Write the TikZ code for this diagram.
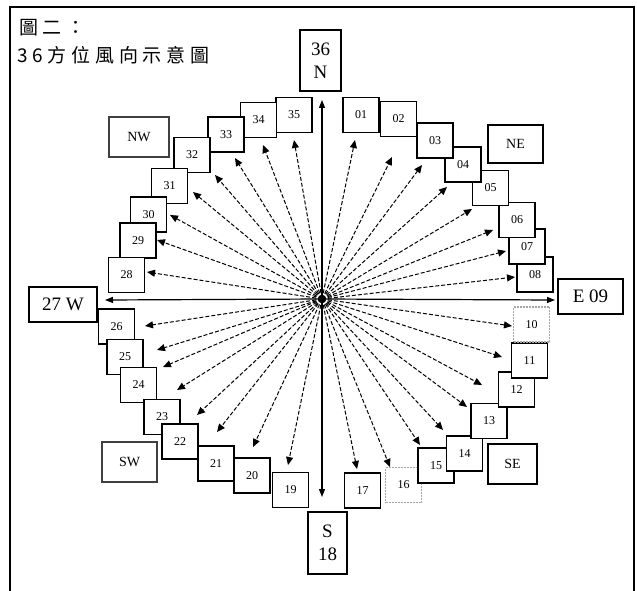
\documentclass[tikz,border=0pt]{standalone}
\usepackage{fontspec}
\setmainfont{Liberation Serif}
\newfontfamily\cjk[LetterSpace=25]{Noto Sans CJK TC}
\usetikzlibrary{arrows.meta}
\tikzset{
  bx/.style={draw=black, line width=1.3pt, fill=white, inner sep=0pt,
    minimum width=36pt, minimum height=35pt, font=\fontsize{12}{12}\selectfont},
  bigbx/.style={bx, font=\fontsize{19}{21}\selectfont},
  dirbx/.style={bx, draw=black!75, line width=1.1pt, font=\fontsize{14}{14}\selectfont},
  faint/.style={draw=black!35, dash pattern=on 2pt off 1pt},
  arr/.style={line width=1pt, dash pattern=on 4pt off 2pt, -{Triangle[length=8pt,width=7pt]}},
  axis/.style={line width=1.2pt, -{Triangle[length=8pt,width=6pt]}},
}
\begin{document}
\begin{tikzpicture}[x=1pt,y=-1pt]
\useasboundingbox (0,0) rectangle (637,591);
% frame
\draw[line width=1.5pt] (10,591) -- (10,7) -- (634,7) -- (634,591);
% title
\node[anchor=base west, inner sep=0pt, font=\cjk\fontsize{19}{19}\selectfont] (t1) at (19,35) {圖二：};
\node[anchor=base west, inner sep=0pt, font=\cjk\fontsize{19}{19}\selectfont] (t2) at (17,63) {36方位風向示意圖};
% center
\coordinate (O) at (322,299);
% boxes
\node[bx] (b35) at (294,115) {35};
\node[bx] (b34) at (258.5,120) {34};
\node[bx] (b33) at (226,134.5) {33};
\node[bx] (b32) at (192,155) {32};
\node[bx] (b31) at (169.5,186) {31};
\node[bx] (b30) at (148.5,214.5) {30};
\node[bx] (b29) at (138,240.5) {29};
\node[bx] (b28) at (126.5,275) {28};
\node[bigbx, minimum width=68pt] (bW) at (63,304.5) {27 W};
\node[bx] (b26) at (116.5,326.5) {26};
\node[bx] (b25) at (125,357) {25};
\node[bx] (b24) at (138.5,385) {24};
\node[bx] (b23) at (162,417) {23};
\node[bx] (b22) at (180,441.5) {22};
\node[bx] (b21) at (216,463.5) {21};
\node[bx] (b20) at (252,475.5) {20};
\node[bx] (b19) at (290.5,490) {19};
\node[bigbx, minimum width=39pt, minimum height=62pt, align=center] (bS) at (327.5,543) {S\\[2pt]18};
\node[bx] (b17) at (362.5,490.5) {17};
\node[bx, faint] (b16) at (403.5,485) {16};
\node[bx] (b15) at (436,465.5) {15};
\node[bx] (b14) at (464.5,453.5) {14};
\node[bx] (b13) at (489,421) {13};
\node[bx] (b12) at (516.5,389.5) {12};
\node[bx] (b11) at (529.5,360.5) {11};
\node[bx, faint] (b10) at (531.5,324.5) {10};
\node[bigbx, minimum width=65pt] (bE) at (590.5,296.5) {E 09};
\node[bx] (b08) at (535,274.5) {08};
\node[bx] (b07) at (527,246.5) {07};
\node[bx] (b06) at (517,220) {06};
\node[bx] (b05) at (490.5,188) {05};
\node[bx] (b04) at (463,164.5) {04};
\node[bx] (b03) at (435,140.5) {03};
\node[bx] (b02) at (398.5,119) {02};
\node[bx] (b01) at (361,115) {01};
\node[bigbx, minimum width=41pt, minimum height=61pt, align=center] (bN) at (320.5,60.5) {36\\[2pt]N};
% intercardinal boxes
\node[dirbx, minimum width=60pt, minimum height=40pt] (bNW) at (139,137) {NW};
\node[dirbx, draw=black, minimum width=55pt, minimum height=38pt] (bNE) at (515.5,144) {NE};
\node[dirbx, draw=black, minimum width=49pt, minimum height=40pt] (bSE) at (512.5,464) {SE};
\node[dirbx, minimum width=55pt, minimum height=40pt] (bSW) at (129.5,462) {SW};
% arrow tips
\foreach \n/\x/\y in {01/355/140, 02/392/157, 03/422/165, 04/447/187, 05/472/209,
  06/493/230, 07/506/251, 08/515/277, 10/512/326, 11/502/357, 12/482/385,
  13/467/407, 14/443/430, 15/420/445, 16/390/467, 17/357/469,
  19/288/465, 20/253/447, 21/217/432, 22/197/415, 23/177/390, 24/163/367,
  25/157/350, 26/145/326, 28/147/272, 29/157/240, 30/170/215, 31/193/192,
  32/215/175, 33/235/158, 34/263/145, 35/294/140}
  {\coordinate (t\n) at (\x,\y); \draw[arr] (O) -- (t\n);}
% main axes
\coordinate (tN) at (322,100);
\coordinate (tS) at (322,497);
\coordinate (tE) at (555,300);
\coordinate (tW) at (105,300);
\draw[axis] (O) -- (tN);
\draw[axis] (O) -- (tS);
\draw[axis] (O) -- (tE);
\draw[axis] (O) -- (tW);
\fill (O) circle (2pt);
\end{tikzpicture}
\end{document}
